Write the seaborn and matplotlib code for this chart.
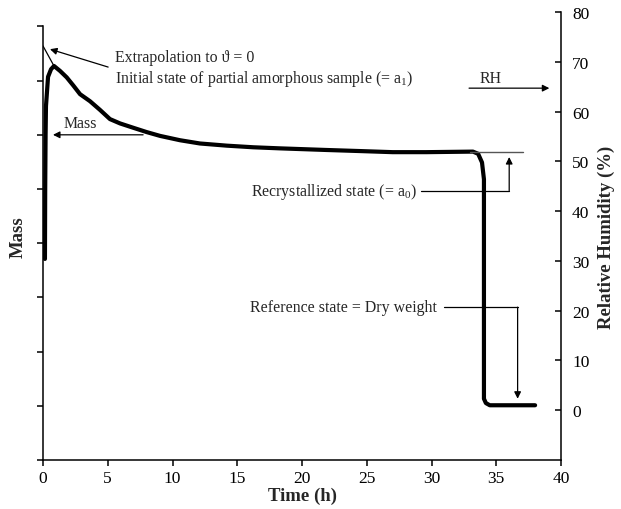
import numpy as np
import pandas as pd
import matplotlib
matplotlib.use("Agg")
import matplotlib.pyplot as plt
import seaborn as sns

# Sorption run: sample mass (arbitrary units) against time
time_h = [0.15, 0.17, 0.20, 0.23, 0.39, 0.62, 0.85, 1.31, 1.83, 2.34, 2.86,
          3.63, 4.40, 5.17, 5.95, 6.97, 8.01, 9.04, 10.58, 12.12, 14.19,
          16.24, 18.30, 21.9, 24.5, 27.0, 29.6, 33.2, 33.6, 33.9, 34.05,
          34.05, 34.2, 34.5, 38.0]
mass = [3.71, 5.00, 6.00, 6.53, 7.07, 7.21, 7.27, 7.18, 7.06, 6.91, 6.75,
        6.62, 6.46, 6.29, 6.21, 6.13, 6.05, 5.98, 5.90, 5.84, 5.80,
        5.77, 5.75, 5.72, 5.70, 5.68, 5.68, 5.69, 5.65, 5.49, 5.18,
        1.13, 1.05, 1.01, 1.01]

# Back-extrapolation of the decay to t = 0
extrap_t = [0.0, 0.85]
extrap_m = [7.64, 7.27]

# Recrystallized plateau level (a0) and dry weight
plateau_level = 5.69
plateau_t = [33.0, 37.1]
dry_level = 1.13

x_ticks = [0, 5, 10, 15, 20, 25, 30, 35, 40]
mass_ticks = [0, 1, 2, 3, 4, 5, 6, 7, 8]
rh_ticks = [0, 10, 20, 30, 40, 50, 60, 70, 80]

sns.set_style("ticks")
plt.rcParams["font.family"] = ["Liberation Serif", "DejaVu Serif"]
plt.rcParams["mathtext.fontset"] = "custom"
plt.rcParams["mathtext.rm"] = "Liberation Serif"
plt.rcParams["mathtext.it"] = "Liberation Serif:italic"
plt.rcParams["axes.linewidth"] = 1.1

W, H = 621, 510
fig = plt.figure(figsize=(W / 100, H / 100), dpi=100)
ax = fig.add_axes([43 / W, (H - 461) / H, (561 - 43) / W, (461 - 13) / H])
ax2 = ax.twinx()

df = pd.DataFrame({"Time (h)": time_h, "Mass": mass})
sns.lineplot(data=df, x="Time (h)", y="Mass", ax=ax, sort=False,
             estimator=None, color="black", lw=3.0)
ax.lines[-1].set_solid_joinstyle("round")

ax.set_xlim(0, 40)
ax.set_ylim(0, 8.266)
ax2.set_ylim(-10, 80)

ax.set_xticks(x_ticks)
ax.set_xticklabels([str(v) for v in x_ticks], fontsize=12.5)
ax.set_yticks(mass_ticks)
ax.set_yticklabels([])
ax2.set_yticks(rh_ticks)
ax2.set_yticklabels([str(v) for v in rh_ticks], fontsize=12.5)

ax.tick_params(axis="x", direction="out", length=4, width=1.1, pad=3, colors="black")
ax.tick_params(axis="y", direction="out", length=4, width=1.1, colors="black")
ax2.tick_params(axis="y", direction="in", length=4, width=1.1, pad=8, colors="black")

for s in ["top", "right"]:
    ax.spines[s].set_visible(False)
for s in ["top", "left", "bottom"]:
    ax2.spines[s].set_visible(False)
ax.spines["left"].set_bounds(0, 8)
ax2.spines["right"].set_bounds(-10, 80)
for a in (ax, ax2):
    for s in a.spines.values():
        s.set_color("black")

ax.set_xlabel("Time (h)", fontsize=13.5, fontweight="bold", labelpad=1)
ax.set_ylabel("Mass", fontsize=13.5, fontweight="bold", labelpad=4)
ax2.set_ylabel("Relative Humidity (%)", fontsize=13.5, fontweight="bold", labelpad=6)

# Extrapolation and plateau reference lines
ax.plot(extrap_t, extrap_m, color="black", lw=0.9)
ax.plot(plateau_t, [plateau_level, plateau_level], color="#555555", lw=1.0)

arrow = dict(arrowstyle="-|>", color="black", lw=0.9,
             mutation_scale=10, shrinkA=0, shrinkB=0)
fs = 11.4

# Extrapolated initial state (a1)
ax.annotate("", xy=(0.54, 7.58), xytext=(5.03, 7.25), arrowprops=arrow)
ax.text(5.57, 7.44, "Extrapolation to \u03d1 = 0", fontsize=fs, va="center", ha="left")
ax.text(5.57, 7.05, r"Initial state of partial amorphous sample (= $\mathrm{a}_1$)",
        fontsize=fs, va="center", ha="left")

# Mass curve label
ax.annotate("", xy=(0.77, 6.0), xytext=(7.73, 6.0), arrowprops=arrow)
ax.text(2.86, 6.22, "Mass", fontsize=fs, va="center", ha="center")

# Relative humidity label
ax2.annotate("", xy=(39.1, 64.7), xytext=(32.9, 64.7), arrowprops=arrow,
             annotation_clip=False)
ax2.text(34.6, 66.7, "RH", fontsize=fs, va="center", ha="center")

# Recrystallized state (a0)
ax.text(16.1, 4.97, r"Recrystallized state (= $\mathrm{a}_0$)", fontsize=fs,
        va="center", ha="left")
ax.plot([29.2, 36.0], [4.97, 4.97], color="black", lw=0.9)
ax.annotate("", xy=(36.0, plateau_level - 0.1), xytext=(36.0, 4.97), arrowprops=arrow)

# Dry weight reference
ax.text(16.0, 2.82, "Reference state = Dry weight", fontsize=fs, va="center", ha="left")
ax.plot([31.0, 36.65], [2.82, 2.82], color="black", lw=0.9)
ax.annotate("", xy=(36.65, dry_level), xytext=(36.65, 2.82), arrowprops=arrow)

fig.savefig("out.png", dpi=100)
